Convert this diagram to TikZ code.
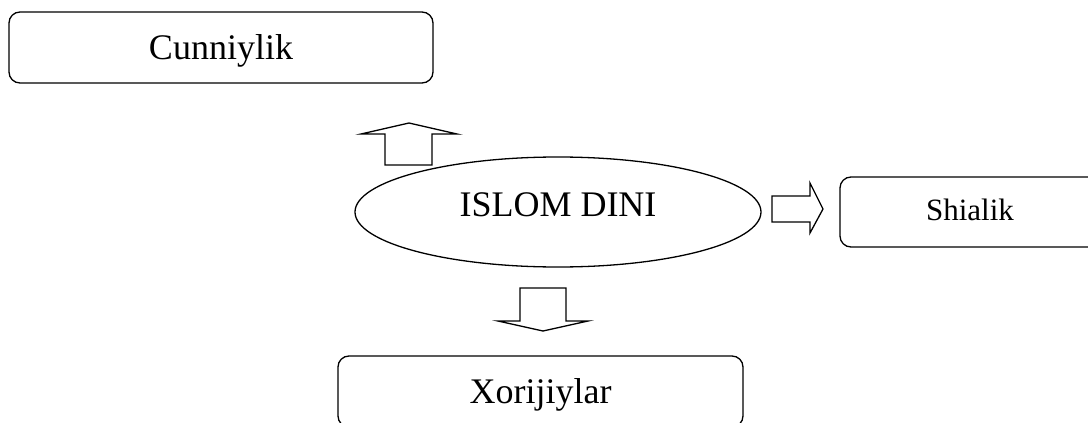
\documentclass[tikz,border=0pt]{standalone}
\usepackage{fontspec}
\setmainfont{Liberation Serif}
\usetikzlibrary{shapes.geometric}
\begin{document}
\begin{tikzpicture}[x=1pt, y=-1pt,
    box/.style={draw, line width=1.3pt, rounded corners=11pt, minimum width=#1,
        minimum height=71pt, inner sep=0pt, text height=24pt, text depth=0pt,
        font=\fontsize{36}{40}\selectfont},
    blockarrow/.style={draw, line width=1.3pt, line join=miter}]
    \useasboundingbox (0,0) rectangle (1088,423);
    \clip (0,0) rectangle (1088,423);

    % 中心
    \node[draw, ellipse, line width=1.3pt, minimum width=406pt, minimum height=110pt,
        inner sep=0pt, text height=24pt, text depth=16pt,
        font=\fontsize{36}{40}\selectfont] (islom) at (558,212) {ISLOM DINI};

    % 三个分支
    \node[box=424pt] (cun) at (221,47.5) {Cunniylik};
    \node[box=260pt, minimum height=70pt, text height=16pt,
        font=\fontsize{31}{36}\selectfont] (shia) at (970,212) {Shialik};
    \node[box=405pt] (xor) at (540.5,391.5) {Xorijiylar};

    % 块状箭头
    \draw[blockarrow] (385,165) -- (385,134) -- (361,134) -- (409,123)
        -- (457,134) -- (432,134) -- (432,165) -- cycle;
    \draw[blockarrow] (772,196) -- (810,196) -- (810,183) -- (823,209)
        -- (810,233) -- (810,222) -- (772,222) -- cycle;
    \draw[blockarrow] (520,288) -- (566,288) -- (566,321) -- (588,321)
        -- (543,331) -- (498,321) -- (520,321) -- cycle;
\end{tikzpicture}
\end{document}
